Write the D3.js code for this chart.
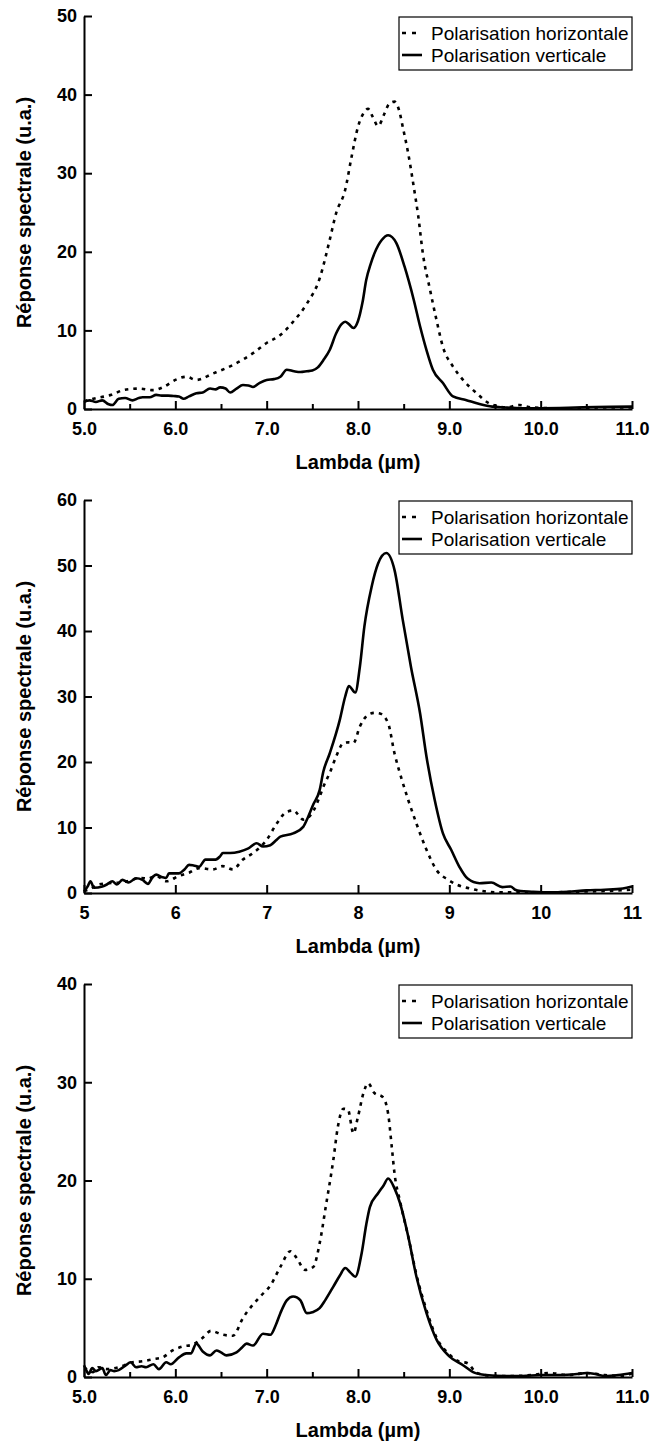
<!DOCTYPE html>
<html>
<head>
<meta charset="utf-8">
<script src="https://cdn.jsdelivr.net/npm/d3@7"></script>
<style>
  html, body { margin: 0; padding: 0; background: #fff; }
  svg { display: block; font-family: "Liberation Sans", Arial, sans-serif; }
</style>
</head>
<body>
<svg id="chart" width="653" height="1446"></svg>
<script>
// ---------- DATA ----------
const seriesNames = ["Polarisation horizontale", "Polarisation verticale"];
const xTicks = [5, 6, 7, 8, 9, 10, 11];
const xMinorTicks = [5.5, 6.5, 7.5, 8.5, 9.5, 10.5];
const yTicks1 = [0, 10, 20, 30, 40, 50];
const yTicks2 = [0, 10, 20, 30, 40, 50, 60];
const yTicks3 = [0, 10, 20, 30, 40];
const xLabel = "Lambda (µm)";
const yLabel = "Réponse spectrale (u.a.)";

// Panel 1
const p1HorizX = [5.0,5.14,5.3,5.43,5.6,5.76,5.87,6.0,6.12,6.23,6.41,6.63,6.85,7.0,7.15,7.29,7.44,7.58,7.69,7.76,7.86,7.93,8.0,8.07,8.11,8.16,8.22,8.29,8.34,8.4,8.45,8.49,8.55,8.61,8.66,8.71,8.79,8.86,8.93,9.04,9.15,9.3,9.44,9.62,9.77,9.9,10.13,10.4,10.7,11.0];
const p1HorizY = [1.0,1.4,1.8,2.4,2.6,2.4,2.8,3.7,4.1,3.7,4.5,5.6,7.1,8.4,9.4,11.1,13.4,16.6,21.5,24.9,27.9,32.1,35.9,37.8,38.2,37.2,36.0,37.6,38.8,39.1,38.0,35.9,32.5,28.3,24.5,19.8,15.1,11.3,7.9,5.4,3.7,2.0,0.7,0.2,0.5,0.2,0.1,0.1,0.2,0.2];
const p1VertX = [5.0,5.06,5.13,5.2,5.27,5.31,5.38,5.45,5.53,5.6,5.64,5.72,5.79,5.85,5.92,5.98,6.04,6.09,6.15,6.23,6.3,6.38,6.44,6.49,6.55,6.6,6.67,6.74,6.8,6.85,6.92,7.0,7.08,7.15,7.22,7.3,7.37,7.44,7.5,7.56,7.62,7.69,7.76,7.82,7.86,7.9,7.95,8.0,8.05,8.09,8.14,8.18,8.26,8.33,8.42,8.51,8.61,8.68,8.75,8.82,8.93,9.04,9.18,9.33,9.47,9.6,9.8,10.0,10.3,10.6,11.0];
const p1VertY = [0.9,1.1,0.9,1.1,0.6,0.5,1.3,1.4,1.1,1.4,1.5,1.5,1.8,1.7,1.7,1.65,1.6,1.3,1.6,2.0,2.1,2.6,2.5,2.75,2.6,2.1,2.6,3.05,3.0,2.8,3.3,3.7,3.8,4.1,5.0,4.8,4.7,4.8,4.9,5.3,6.2,7.5,9.6,10.8,11.1,10.8,10.3,11.2,13.6,16.4,18.5,19.8,21.5,22.1,21.1,18.1,13.9,10.5,7.5,5.0,3.3,1.6,1.15,0.64,0.3,0.2,0.1,0.1,0.15,0.25,0.3];

// Panel 2
const p2HorizX = [5.0,5.05,5.16,5.27,5.4,5.5,5.62,5.7,5.79,5.9,6.04,6.15,6.26,6.41,6.52,6.63,6.74,6.85,7.0,7.11,7.22,7.3,7.33,7.4,7.51,7.58,7.62,7.69,7.76,7.84,7.9,7.95,8.02,8.11,8.18,8.24,8.33,8.4,8.48,8.55,8.64,8.75,8.86,8.99,9.08,9.22,9.36,9.5,9.8,10.1,10.4,10.7,11.0];
const p2HorizY = [0.3,0.5,1.3,1.5,1.6,1.9,2.3,2.2,2.6,1.8,2.6,3.1,3.8,3.6,4.1,3.6,5.1,6.1,8.1,10.6,12.4,12.6,12.2,11.2,12.5,14.7,16.2,18.3,20.8,22.9,23.0,22.9,25.4,27.2,27.5,27.4,25.9,21.3,17.3,14.2,10.6,6.6,3.5,2.0,1.3,0.7,0.3,0.1,0.1,0.1,0.2,0.3,0.5];
const p2VertX = [5.0,5.04,5.07,5.11,5.2,5.25,5.31,5.36,5.42,5.49,5.57,5.64,5.7,5.75,5.79,5.86,5.9,5.93,6.04,6.1,6.15,6.2,6.26,6.33,6.44,6.49,6.52,6.6,6.7,6.8,6.89,6.96,7.04,7.1,7.15,7.29,7.4,7.45,7.51,7.58,7.62,7.69,7.8,7.86,7.9,7.97,8.02,8.07,8.15,8.22,8.31,8.4,8.49,8.58,8.68,8.75,8.84,8.93,9.02,9.11,9.2,9.33,9.46,9.58,9.67,9.72,9.78,9.9,10.1,10.3,10.5,10.7,10.9,11.0];
const p2VertY = [0.2,1.0,1.8,0.8,1.0,1.3,1.8,1.3,2.0,1.6,2.25,2.0,1.4,2.4,2.8,2.4,2.3,3.0,3.0,3.6,4.3,4.2,4.0,5.1,5.1,5.6,6.1,6.1,6.3,6.8,7.6,7.1,7.3,8.0,8.6,9.1,10.1,11.5,13.5,15.7,18.5,21.3,26.4,30.0,31.6,30.6,34.5,40.7,46.8,50.3,51.9,49.3,41.7,34.5,27.4,20.8,14.2,9.1,6.6,4.0,2.2,1.5,1.6,0.9,1.0,0.5,0.3,0.2,0.1,0.2,0.4,0.5,0.7,1.0];

// Panel 3
const p3HorizX = [5.0,5.1,5.16,5.25,5.38,5.53,5.64,5.75,5.86,5.97,6.08,6.19,6.3,6.39,6.52,6.63,6.74,6.93,7.04,7.15,7.26,7.33,7.42,7.51,7.58,7.65,7.73,7.78,7.84,7.89,7.95,8.0,8.06,8.11,8.18,8.27,8.33,8.37,8.4,8.46,8.55,8.64,8.75,8.86,9.0,9.1,9.2,9.3,9.5,9.7,9.9,10.1,10.3,10.5,10.7,10.9,11.0];
const p3HorizY = [1.0,0.5,1.0,0.8,1.0,1.5,1.6,1.8,2.0,2.7,3.1,3.3,4.0,4.7,4.3,4.2,6.0,8.2,9.3,11.2,12.8,12.1,10.9,11.2,13.6,17.5,22.1,25.5,27.3,27.2,24.8,26.5,28.9,29.9,28.9,28.5,26.8,23.4,20.7,17.9,14.3,10.4,6.8,4.0,2.3,1.6,1.4,0.4,0.1,0.1,0.2,0.4,0.2,0.4,0.2,0.1,0.4];
const p3VertX = [5.0,5.03,5.05,5.09,5.13,5.2,5.24,5.29,5.33,5.38,5.46,5.51,5.57,5.63,5.68,5.76,5.82,5.9,5.95,6.04,6.12,6.17,6.23,6.3,6.38,6.45,6.5,6.56,6.67,6.73,6.78,6.85,6.96,7.04,7.1,7.15,7.22,7.29,7.33,7.37,7.44,7.5,7.58,7.64,7.73,7.8,7.86,7.92,7.97,8.04,8.09,8.13,8.22,8.28,8.33,8.4,8.46,8.55,8.64,8.75,8.86,9.0,9.15,9.26,9.4,9.6,9.8,10.0,10.2,10.4,10.5,10.6,10.7,10.85,11.0];
const p3VertY = [1.2,0.6,0.3,0.9,0.6,0.9,0.2,0.7,0.6,0.7,1.2,1.5,1.0,1.1,1.0,1.3,0.8,1.5,1.3,2.0,2.4,2.4,3.4,2.6,2.2,2.7,2.5,2.2,2.5,3.0,3.4,3.2,4.4,4.3,5.3,6.5,7.8,8.2,8.1,7.8,6.5,6.6,7.0,7.8,9.2,10.3,11.1,10.6,10.2,12.6,15.5,17.3,18.7,19.5,20.2,19.2,17.7,14.3,10.2,6.5,3.8,2.1,1.2,0.5,0.2,0.1,0.1,0.2,0.2,0.3,0.4,0.3,0.1,0.2,0.4];

// ---------- LAYOUT ----------
const panels = [
  { top: 16,  bottom: 409,  yTicks: yTicks1, xFmt: d3.format(".1f"), minor: true,
    horiz: [p1HorizX, p1HorizY], vert: [p1VertX, p1VertY] },
  { top: 500, bottom: 893,  yTicks: yTicks2, xFmt: d3.format("d"), minor: false,
    horiz: [p2HorizX, p2HorizY], vert: [p2VertX, p2VertY] },
  { top: 984, bottom: 1377, yTicks: yTicks3, xFmt: d3.format(".1f"), minor: true,
    horiz: [p3HorizX, p3HorizY], vert: [p3VertX, p3VertY] }
];
const left = 84, right = 632;
const svg = d3.select("#chart");
svg.append("rect").attr("width", 653).attr("height", 1446).attr("fill", "#fff");

const dash = "3.5,5";

panels.forEach(p => {
  const g = svg.append("g");
  const x = d3.scaleLinear().domain([5, 11]).range([left, right]);
  const yMax = d3.max(p.yTicks);
  const y = d3.scaleLinear().domain([0, yMax]).range([p.bottom, p.top]);

  const line = d3.line().x(d => x(d[0])).y(d => y(d[1])).curve(d3.curveMonotoneX);
  const pts = arr => arr[0].map((v, i) => [v, arr[1][i]]);

  // curves
  g.append("path").datum(pts(p.horiz)).attr("d", line)
    .attr("fill", "none").attr("stroke", "#000").attr("stroke-width", 2.6)
    .attr("stroke-dasharray", dash);
  g.append("path").datum(pts(p.vert)).attr("d", line)
    .attr("fill", "none").attr("stroke", "#000").attr("stroke-width", 2.6)
    .attr("stroke-linejoin", "round");

  // y axis
  const ya = g.append("g").attr("transform", `translate(${left},0)`)
    .call(d3.axisLeft(y).tickValues(p.yTicks).tickSize(-8).tickSizeOuter(0).tickPadding(7).tickFormat(d3.format("d")));
  // x axis
  const xa = g.append("g").attr("transform", `translate(0,${p.bottom})`)
    .call(d3.axisBottom(x).tickValues(xTicks).tickSize(-8).tickSizeOuter(0).tickPadding(13).tickFormat(p.xFmt));
  if (p.minor) {
    g.append("g").attr("transform", `translate(0,${p.bottom})`)
      .call(d3.axisBottom(x).tickValues(xMinorTicks).tickSize(-5).tickSizeOuter(0).tickFormat(""))
      .call(a => a.select(".domain").remove());
  }
  [ya, xa].forEach(a => {
    a.selectAll("path, line").attr("stroke", "#000").attr("stroke-width", 2);
    a.selectAll("text").attr("fill", "#000").style("font-size", "18px").style("font-weight", "bold")
      .style("font-family", '"Liberation Sans", Arial, sans-serif');
  });
  g.selectAll("g.tick line").attr("stroke", "#000").attr("stroke-width", 2);

  // axis titles
  g.append("text").attr("x", (left + right) / 2).attr("y", p.bottom + 60)
    .attr("text-anchor", "middle").style("font-size", "20px").style("font-weight", "bold").text(xLabel);
  g.append("text").attr("transform", `translate(31,${(p.top + p.bottom) / 2}) rotate(-90)`)
    .attr("text-anchor", "middle").style("font-size", "20px").style("font-weight", "bold").text(yLabel);

  // legend
  const lg = g.append("g").attr("transform", `translate(399,${p.top + 1})`);
  lg.append("rect").attr("width", 233).attr("height", 53).attr("fill", "#fff")
    .attr("stroke", "#000").attr("stroke-width", 1.2);
  seriesNames.forEach((name, i) => {
    const cy = 16 + i * 22;
    lg.append("line").attr("x1", 3).attr("x2", 23).attr("y1", cy).attr("y2", cy)
      .attr("stroke", "#000").attr("stroke-width", 2.6)
      .attr("stroke-dasharray", i === 0 ? "4,6" : null);
    lg.append("text").attr("x", 32).attr("y", cy + 6.5).style("font-size", "19px").text(name);
  });
});
</script>
</body>
</html>
